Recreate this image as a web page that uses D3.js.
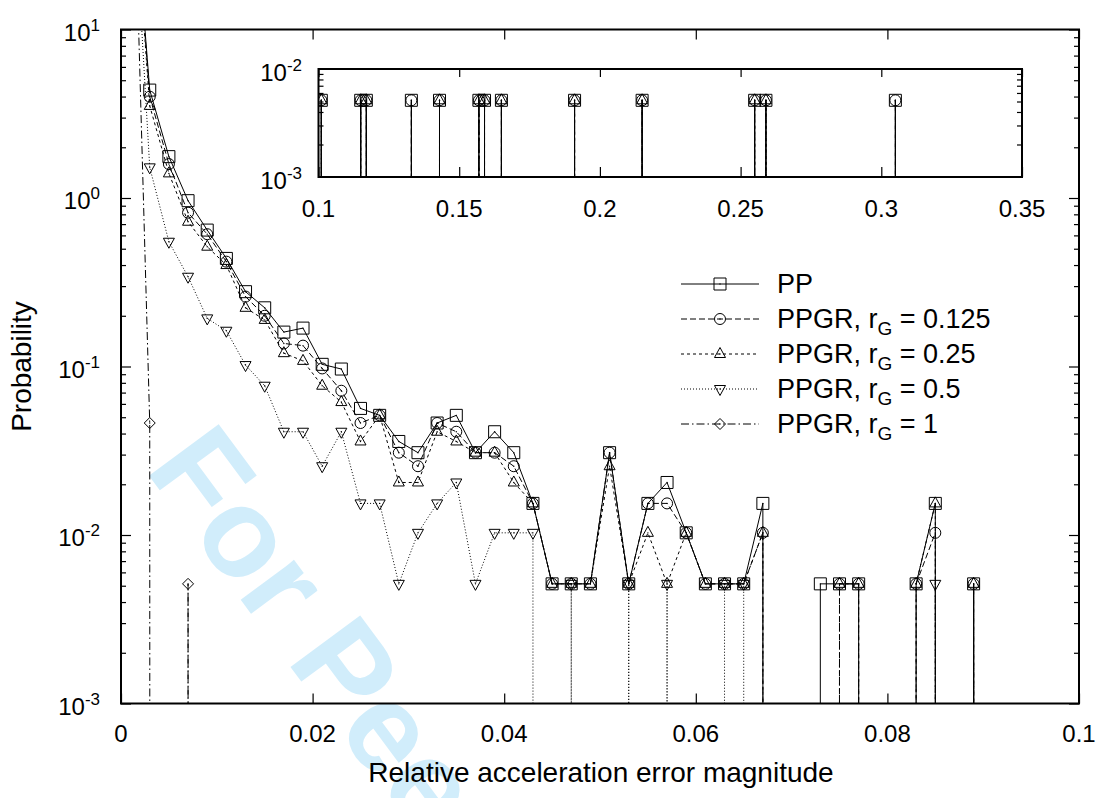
<!DOCTYPE html>
<html><head><meta charset="utf-8">
<script src="https://cdn.jsdelivr.net/npm/d3@7"></script>
<style>
body{margin:0;background:#fff}
svg{display:block}
text{font-family:"Liberation Sans",Arial,Helvetica,sans-serif;fill:#000}
</style>
</head><body>
<svg id="chart" width="1104" height="798"></svg>
<script>
// ---------------- data ----------------
const bins = [0.001,0.003,0.005,0.007,0.009,0.011,0.013,0.015,0.017,0.019,
  0.021,0.023,0.025,0.027,0.029,0.031,0.033,0.035,0.037,0.039,
  0.041,0.043,0.045,0.047,0.049,0.051,0.053,0.055,0.057,0.059,
  0.061,0.063,0.065,0.067,0.069,0.071,0.073,0.075,0.077,0.079,
  0.081,0.083,0.085,0.087,0.089];
const ppValues = [120,4.37,1.76,0.964,0.645,0.438,0.278,0.223,0.160,0.169,
  0.103,0.0966,0.0564,0.0513,0.0359,0.0308,0.0462,0.0513,0.0308,0.0410,
  0.0308,0.0154,0.00513,0.00513,0.00513,0.0308,0.00513,0.0154,0.0205,0.0103,
  0.00513,0.00513,0.00513,0.0154,0,0,0.00513,0.00513,0.00513,0,
  0,0.00513,0.0154,0,0.00513];
const rg0125Values = [125,3.99,1.59,0.818,0.610,0.419,0.260,0.200,0.137,0.133,
  0.0974,0.0718,0.0462,0.0513,0.0308,0.0256,0.0462,0.0410,0.0308,0.0308,
  0.0256,0.0154,0.00513,0.00513,0.00513,0.0308,0.00513,0.0154,0.0154,0.0103,
  0.00513,0.00513,0.00513,0.0103,0,0,0,0.00513,0.00513,0,
  0,0.00513,0.0103,0,0.00513];
const rg025Values = [130,3.52,1.40,0.723,0.514,0.400,0.223,0.189,0.120,0.108,
  0.0769,0.0615,0.0359,0.0513,0.0205,0.0205,0.0410,0.0359,0.0308,0.0308,
  0.0205,0.0154,0.00513,0.00513,0.00513,0.0256,0.00513,0.0103,0.00513,0.0103,
  0.00513,0.00513,0.00513,0.0103,0,0,0,0.00513,0.00513,0,
  0,0.00513,0.0154,0,0.00513];
const rg05Values = [140,1.52,0.55,0.341,0.193,0.163,0.102,0.0769,0.0410,0.0410,
  0.0256,0.0410,0.0154,0.0154,0.00513,0.0103,0.0154,0.0205,0.00513,0.0103,
  0.0103,0.0103,0,0.00513,0,0,0.00513,0,0.00513,0,
  0,0.00513,0.00513,0,0,0,0,0,0,0,
  0,0,0.00513,0,0];
const rg1Values = [500,0.0462,0,0.00513,0,0,0,0,0,0,
  0,0,0,0,0,0,0,0,0,0,
  0,0,0,0,0,0,0,0,0,0,
  0,0,0,0,0,0,0,0,0,0,
  0,0,0,0,0];
// isolated bins beyond 0.1 (shown in the inset)
const tailBins = [0.101,0.115,0.117,0.133,0.143,0.157,0.159,0.165,0.191,0.215,0.255,0.259,0.305];
const ppTail     = [0.00513,0.00513,0.00513,0.00513,0.00513,0.00513,0.00513,0.00513,0.00513,0.00513,0.00513,0.00513,0.00513];
const rg0125Tail = [0.00513,0.00513,0.00513,0.00513,0.00513,0.00513,0.00513,0.00513,0.00513,0.00513,0.00513,0.00513,0.00513];
const rg025Tail  = [0.00513,0.00513,0.00513,0,0.00513,0.00513,0.00513,0.00513,0.00513,0.00513,0.00513,0.00513,0];
const rg05Tail   = [0,0,0,0,0,0,0,0,0,0,0,0,0];
const rg1Tail    = [0,0,0,0,0,0,0,0,0,0,0,0,0];

const seriesNames = ["PP","PPGR, r|G| = 0.125","PPGR, r|G| = 0.25","PPGR, r|G| = 0.5","PPGR, r|G| = 1"];
const xTicks = [0,0.02,0.04,0.06,0.08,0.1];
const xTickLabels = ["0","0.02","0.04","0.06","0.08","0.1"];
const yTicks = [1e-3,1e-2,1e-1,1,10];
const yTickExp = ["-3","-2","-1","0","1"];
const insetXTicks = [0.1,0.15,0.2,0.25,0.3,0.35];
const insetXTickLabels = ["0.1","0.15","0.2","0.25","0.3","0.35"];
const insetYTicks = [1e-3,1e-2];
const insetYTickExp = ["-3","-2"];
const xTitle = "Relative acceleration error magnitude";
const yTitle = "Probability";

// ---------------- styles ----------------
const styles = [
  {dash:null, marker:"square"},
  {dash:"6,3", marker:"circle"},
  {dash:"3,3", marker:"tri"},
  {dash:"1,2", marker:"itri"},
  {dash:"8,3,1.5,3", marker:"diamond"}
];

const svg = d3.select("#chart");
const L=121, R=1079, T=29.5, B=703.5;
const x = d3.scaleLinear().domain([0,0.1]).range([L,R]);
const y = d3.scaleLog().domain([1e-3,10]).range([B,T]);
const IL=318.5, IR=1022, IT=69, IB=177;
const xi = d3.scaleLinear().domain([0.1,0.35]).range([IL,IR]);
const yi = d3.scaleLog().domain([1e-3,1e-2]).range([IB,IT]);

// watermark
svg.append("text").attr("transform","translate(144,469) rotate(53.5)")
  .attr("font-size",126).attr("font-weight","bold").style("fill","#d1edfb")
  .text("For Peer Review");

const defs = svg.append("defs");
defs.append("clipPath").attr("id","clipMain").append("rect").attr("x",L).attr("y",T).attr("width",R-L).attr("height",B-T);
defs.append("clipPath").attr("id","clipInset").append("rect").attr("x",IL).attr("y",IT).attr("width",IR-IL).attr("height",IB-IT);

// build series
const valueSets = [ppValues,rg0125Values,rg025Values,rg05Values,rg1Values];
const tailSets = [ppTail,rg0125Tail,rg025Tail,rg05Tail,rg1Tail];
const series = valueSets.map((vals,k)=>{
  const pts = bins.map((b,i)=>({x:b,v:vals[i]}));
  tailBins.forEach((b,i)=>{
    pts.push({x:b-0.002,v:0});
    pts.push({x:b,v:tailSets[k][i]});
    pts.push({x:b+0.002,v:0});
  });
  return pts;
});

function markerPath(type){
  switch(type){
    case "square": return "M-6,-6H6V6H-6Z";
    case "circle": return d3.arc()({innerRadius:0,outerRadius:5.5,startAngle:0,endAngle:2*Math.PI});
    case "tri": return "M0,-6.5L5.5,3.5L-5.5,3.5Z";
    case "itri": return "M0,6.5L5.5,-3.5L-5.5,-3.5Z";
    case "diamond": return "M0,-5.5L5.5,0L0,5.5L-5.5,0Z";
  }
}
function drawMarker(g,type,cx,cy){
  const m = g.append("g").attr("transform",`translate(${cx},${cy})`);
  m.append("path").attr("d",markerPath(type)).attr("fill","none").attr("stroke","#000").attr("stroke-width",1);
  m.append("circle").attr("r",0.7).attr("fill","#000");
}

function drawSeries(g, xs, ys, xmin, xmax){
  series.forEach((pts,k)=>{
    const line = d3.line().x(d=>xs(d.x)).y(d=>d.v>0?ys(d.v):1e5);
    g.append("path").attr("d",line(pts)).attr("fill","none").attr("stroke","#000")
      .attr("stroke-width",1).attr("stroke-dasharray",styles[k].dash);
  });
  series.forEach((pts,k)=>{
    pts.filter(d=>d.v>0 && d.x>=xmin && d.x<=xmax).forEach(d=>{
      drawMarker(g,styles[k].marker,xs(d.x),ys(d.v));
    });
  });
}

// ---------------- main plot ----------------
const gMain = svg.append("g").attr("clip-path","url(#clipMain)");
drawSeries(gMain,x,y,0,0.1);

// axes ticks
const minorMain = [];
for(let e=-3;e<1;e++) for(let m=2;m<=9;m++) minorMain.push(m*Math.pow(10,e));
function tickAxis(axis, tx, ty){
  const g = svg.append("g").attr("transform",`translate(${tx},${ty})`).call(axis);
  g.select(".domain").remove();
  g.selectAll("text").remove();
  g.selectAll("line").attr("stroke","#000").attr("stroke-width",1.2);
  return g;
}
tickAxis(d3.axisLeft(y).tickValues(yTicks).tickSize(-10).tickFormat(""),L,0);
tickAxis(d3.axisLeft(y).tickValues(minorMain).tickSize(-5).tickFormat(""),L,0);
tickAxis(d3.axisRight(y).tickValues(yTicks).tickSize(-10).tickFormat(""),R,0);
tickAxis(d3.axisRight(y).tickValues(minorMain).tickSize(-5).tickFormat(""),R,0);
tickAxis(d3.axisBottom(x).tickValues(xTicks).tickSize(-10).tickFormat(""),0,B);
tickAxis(d3.axisTop(x).tickValues(xTicks).tickSize(-10).tickFormat(""),0,T);

svg.append("rect").attr("x",L).attr("y",T).attr("width",R-L).attr("height",B-T)
  .attr("fill","none").attr("stroke","#000").attr("stroke-width",2);

// tick labels
xTicks.forEach((v,i)=>{
  svg.append("text").attr("x",x(v)).attr("y",B+38).attr("text-anchor","middle")
    .attr("font-size",24).text(xTickLabels[i]);
});
function expLabel(px,py,exp,anchorX){
  const t = svg.append("text").attr("x",anchorX).attr("y",py).attr("text-anchor","end").attr("font-size",24);
  t.append("tspan").text("10");
  t.append("tspan").attr("dy",-10).attr("font-size",17).text(exp);
}
yTicks.forEach((v,i)=>expLabel(0,y(v)+11,yTickExp[i],100));

// axis titles
svg.append("text").attr("x",601).attr("y",782).attr("text-anchor","middle").attr("font-size",28).text(xTitle);
svg.append("text").attr("transform",`translate(31,${(T+B)/2}) rotate(-90)`).attr("text-anchor","middle")
  .attr("font-size",28).text(yTitle);

// ---------------- legend ----------------
const legendRows = [284,319,354,389,424];
seriesNames.forEach((name,k)=>{
  const ry = legendRows[k];
  svg.append("line").attr("x1",681).attr("x2",759).attr("y1",ry).attr("y2",ry)
    .attr("stroke","#000").attr("stroke-width",1).attr("stroke-dasharray",styles[k].dash);
  drawMarker(svg,styles[k].marker,720,ry);
  const parts = name.split("|");
  const t = svg.append("text").attr("x",777).attr("y",ry+9).attr("font-size",27);
  t.append("tspan").text(parts[0]);
  if(parts.length>1){
    t.append("tspan").attr("dy",7).attr("font-size",19).text(parts[1]);
    t.append("tspan").attr("dy",-7).text(parts[2]);
  }
});

// ---------------- inset ----------------
svg.append("rect").attr("x",IL).attr("y",IT).attr("width",IR-IL).attr("height",IB-IT).attr("fill","#fff");
const gInset = svg.append("g").attr("clip-path","url(#clipInset)");
drawSeries(gInset,xi,yi,0.1,0.35);
const minorInset = [];
for(let m=2;m<=9;m++) minorInset.push(m*1e-3);
tickAxis(d3.axisLeft(yi).tickValues(minorInset).tickSize(-5).tickFormat(""),IL,0);
tickAxis(d3.axisRight(yi).tickValues(minorInset).tickSize(-5).tickFormat(""),IR,0);
tickAxis(d3.axisBottom(xi).tickValues(insetXTicks).tickSize(-10).tickFormat(""),0,IB);
tickAxis(d3.axisTop(xi).tickValues(insetXTicks).tickSize(-8).tickFormat(""),0,IT);
svg.append("rect").attr("x",IL).attr("y",IT).attr("width",IR-IL).attr("height",IB-IT)
  .attr("fill","none").attr("stroke","#000").attr("stroke-width",2);
insetXTicks.forEach((v,i)=>{
  svg.append("text").attr("x",xi(v)).attr("y",IB+40).attr("text-anchor","middle")
    .attr("font-size",24).text(insetXTickLabels[i]);
});
insetYTicks.forEach((v,i)=>expLabel(0,yi(v)+12,insetYTickExp[i],302));
</script>
</body></html>
